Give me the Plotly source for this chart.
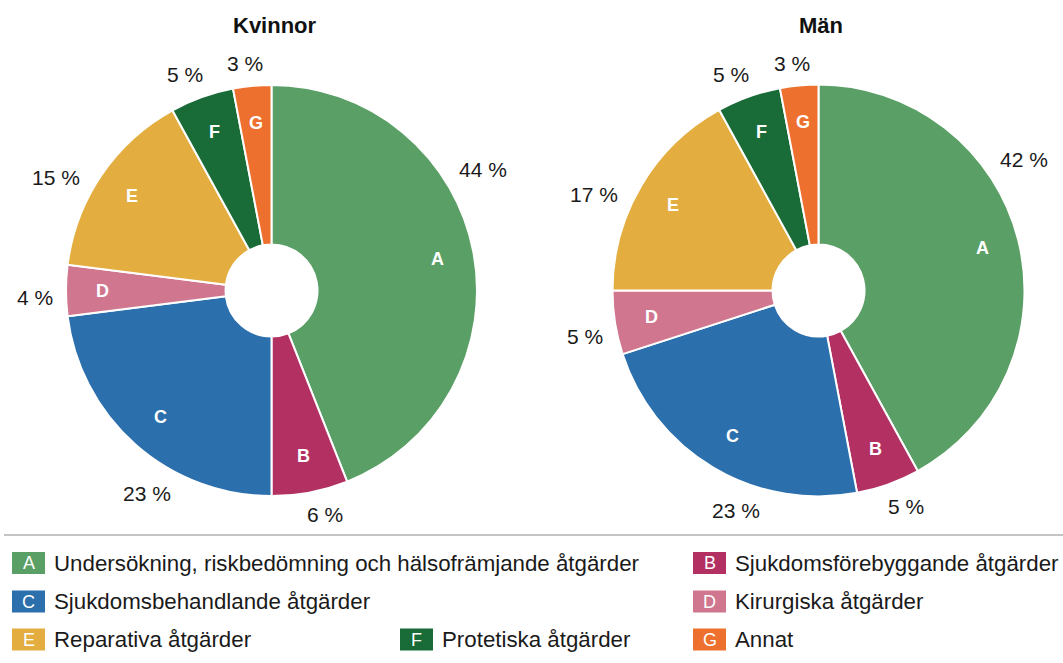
import math
import plotly.graph_objects as go

# Andel åtgärder per kategori (procent)
letters = ["A", "B", "C", "D", "E", "F", "G"]
categories = [
    "Undersökning, riskbedömning och hälsofrämjande åtgärder",
    "Sjukdomsförebyggande åtgärder",
    "Sjukdomsbehandlande åtgärder",
    "Kirurgiska åtgärder",
    "Reparativa åtgärder",
    "Protetiska åtgärder",
    "Annat",
]
kvinnor = [44, 6, 23, 4, 15, 5, 3]
man = [42, 5, 23, 5, 17, 5, 3]
groups = ["Kvinnor", "Män"]

colors = ["#5a9f65", "#b23062", "#2b6fad", "#d0768f", "#e3ae3f", "#196b37", "#ee702f"]

W, H = 1063, 663
FONT = "Liberation Sans, Arial, sans-serif"

# pie geometry in pixels: centre x, centre y, radius
pies = [
    (kvinnor, 271.5, 290.5, 205.5),
    (man, 818.5, 290.5, 206.0),
]
HOLE_PX = 46
PCT_SIZE = 21


def px(x):
    return x / W


def py(y):
    return 1 - y / H


fig = go.Figure()
annotations = []
shapes = []

for (values, cx, cy, R), title in zip(pies, groups):
    fig.add_trace(go.Pie(
        values=values,
        labels=letters,
        marker=dict(colors=colors, line=dict(color="white", width=2)),
        sort=False,
        direction="clockwise",
        rotation=0,
        hole=HOLE_PX / R,
        textinfo="none",
        hoverinfo="label+value",
        showlegend=False,
        domain=dict(x=[px(cx - R), px(cx + R)], y=[py(cy + R), py(cy - R)]),
    ))

    # title above each pie
    annotations.append(dict(
        x=px(cx + 3), y=py(26), xref="paper", yref="paper", text=f"<b>{title}</b>",
        showarrow=False, xanchor="center", yanchor="middle",
        font=dict(family=FONT, size=22, color="#111111"),
    ))

    total = sum(values)
    cum = 0
    for letter, v in zip(letters, values):
        a0 = cum / total * 360
        cum += v
        a1 = cum / total * 360

        # slice letter inside the ring
        mid = math.radians((a0 + a1) / 2)
        rl = 0.82 * R
        annotations.append(dict(
            x=px(cx + rl * math.sin(mid)), y=py(cy - rl * math.cos(mid)),
            xref="paper", yref="paper", text=f"<b>{letter}</b>", showarrow=False,
            xanchor="center", yanchor="middle",
            font=dict(family=FONT, size=18, color="white"),
        ))

        # percentage outside the ring
        ang = math.radians(a0 + 0.38 * (a1 - a0))
        ux, uy = math.sin(ang), math.cos(ang)
        label = f"{v} %"
        half_w = 0.57 * PCT_SIZE * len(label) / 2
        half_h = 8
        rr = R + 13 + abs(ux) * half_w + abs(uy) * half_h
        annotations.append(dict(
            x=px(cx + rr * ux), y=py(cy - rr * uy),
            xref="paper", yref="paper", text=label, showarrow=False,
            xanchor="center", yanchor="middle",
            font=dict(family=FONT, size=PCT_SIZE, color="#1a1a1a"),
        ))

# divider above the legend
shapes.append(dict(type="line", xref="paper", yref="paper",
                   x0=px(4), x1=px(1063), y0=py(535), y1=py(535),
                   line=dict(color="#c4c4c4", width=2)))

# legend: (column left edge px, row centre px) for each category
legend_cols = [12, 400, 693]
legend_rows = [563, 601.5, 639.5]
legend_slots = [(0, 0), (2, 0), (0, 1), (2, 1), (0, 2), (1, 2), (2, 2)]
BOX_W, BOX_H = 33, 22

for (col, row), letter, name, color in zip(legend_slots, letters, categories, colors):
    x0 = legend_cols[col]
    yc = legend_rows[row]
    shapes.append(dict(type="rect", xref="paper", yref="paper",
                       x0=px(x0), x1=px(x0 + BOX_W), y0=py(yc + BOX_H / 2), y1=py(yc - BOX_H / 2),
                       fillcolor=color, line=dict(width=0)))
    annotations.append(dict(
        x=px(x0 + BOX_W / 2), y=py(yc), xref="paper", yref="paper", text=letter,
        showarrow=False, xanchor="center", yanchor="middle",
        font=dict(family=FONT, size=18, color="white"),
    ))
    annotations.append(dict(
        x=px(x0 + BOX_W + 7), y=py(yc), xref="paper", yref="paper", text=name,
        showarrow=False, xanchor="left", yanchor="middle",
        font=dict(family=FONT, size=22.3, color="#1a1a1a"),
    ))

fig.update_layout(
    width=W, height=H,
    margin=dict(l=0, r=0, t=0, b=0),
    paper_bgcolor="white",
    plot_bgcolor="white",
    annotations=annotations,
    shapes=shapes,
    showlegend=False,
)

fig.write_html("out.html")
